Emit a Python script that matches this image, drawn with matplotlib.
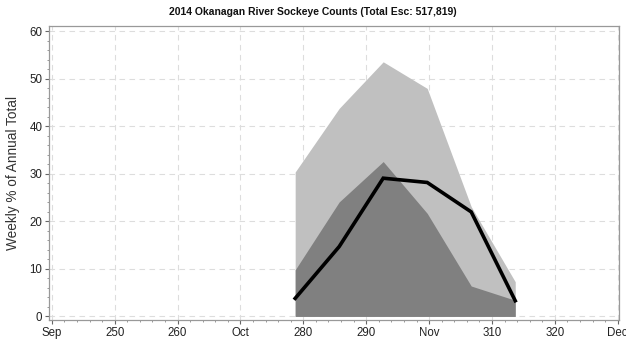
import matplotlib
matplotlib.use("Agg")
import matplotlib.pyplot as plt
from matplotlib.ticker import MultipleLocator

plt.rcParams['font.family'] = ['Liberation Sans', 'DejaVu Sans']

days = [278.7, 285.7, 292.7, 299.7, 306.7, 313.7]
upper_range = [30.4, 43.8, 53.6, 48.0, 23.1, 7.3]
mid_range = [9.8, 24.1, 32.6, 21.7, 6.4, 3.4]
counts_2014 = [3.8, 14.7, 29.1, 28.2, 22.0, 3.3]

tick_pos = [240, 250, 260, 270, 280, 290, 300, 310, 320, 330]
tick_labels = ['Sep', '250', '260', 'Oct', '280', '290', 'Nov', '310', '320', 'Dec']
y_ticks = [0, 10, 20, 30, 40, 50, 60]

fig = plt.figure(figsize=(6.26, 3.45), dpi=100)
ax = fig.add_axes([0.0788, 0.0725, 0.9105, 0.853])

ax.fill_between(days, 0, upper_range, color='#c0c0c0', lw=0, zorder=2)
ax.fill_between(days, 0, mid_range, color='#808080', lw=0, zorder=3)
ax.plot(days, counts_2014, color='black', lw=2.6, zorder=4, solid_joinstyle='miter')

ax.set_xlim(239.6, 330.25)
ax.set_ylim(-0.75, 61.2)
ax.set_xticks(tick_pos)
ax.set_xticklabels(tick_labels)
ax.set_yticks(y_ticks)
ax.xaxis.set_minor_locator(MultipleLocator(2))
ax.yaxis.set_minor_locator(MultipleLocator(2))

ax.grid(True, which='major', color='#dddddd', linestyle=(0, (5, 4)), lw=0.8, zorder=0)
for s in ax.spines.values():
    s.set_color('#999999')
    s.set_linewidth(0.9)
ax.tick_params(which='major', direction='out', length=3, width=0.8, color='#666666',
               labelsize=8.3, labelcolor='#222222', pad=2)
ax.tick_params(which='minor', direction='out', length=1.5, width=0.6, color='#888888')

ax.set_ylabel('Weekly % of Annual Total', fontsize=9.8, color='#333333', labelpad=7)
fig.text(0.5, 0.965, '2014 Okanagan River Sockeye Counts (Total Esc: 517,819)',
         ha='center', va='center', fontsize=7.5, fontweight='bold', color='#111111')

fig.savefig('out.png', dpi=100)
